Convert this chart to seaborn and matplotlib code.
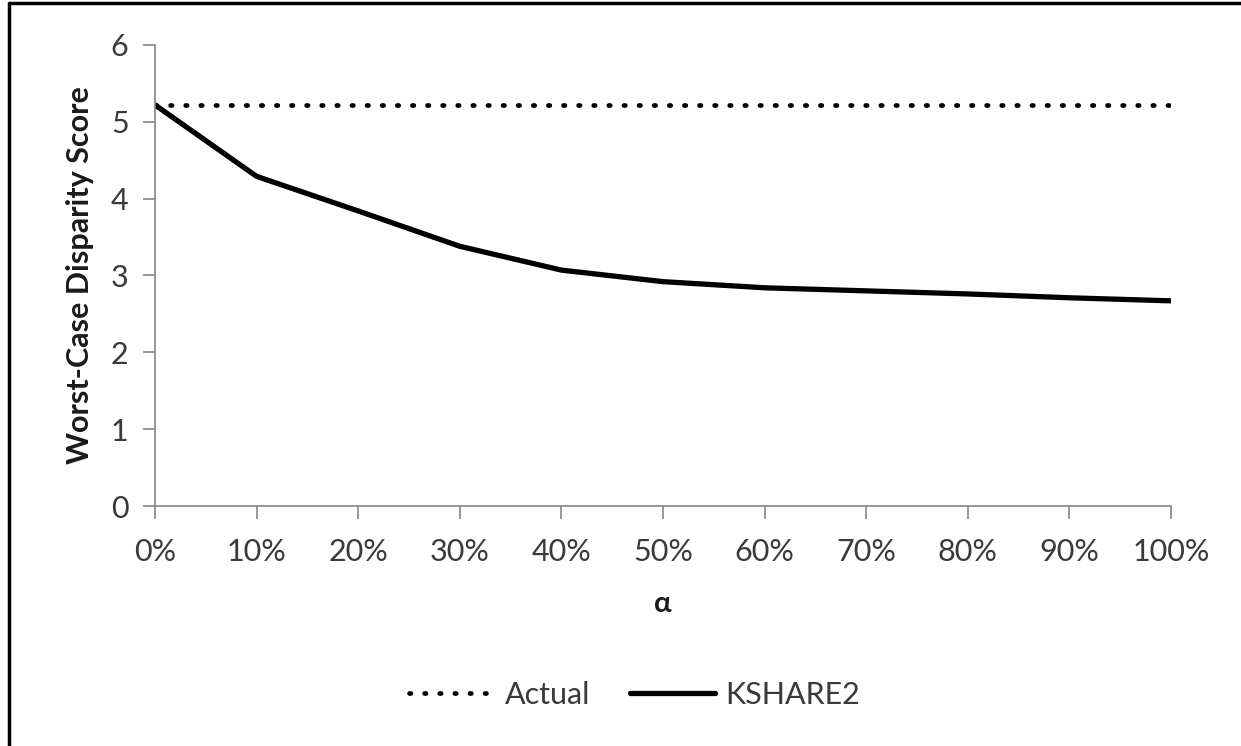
import matplotlib
matplotlib.use("Agg")
import matplotlib.pyplot as plt
import seaborn as sns
from matplotlib.lines import Line2D
from matplotlib.ticker import FuncFormatter

# data
alpha = [0.0, 0.1, 0.2, 0.3, 0.4, 0.5, 0.6, 0.7, 0.8, 0.9, 1.0]
actual = [5.22] * 11
kshare2 = [5.22, 4.29, 3.84, 3.38, 3.07, 2.92, 2.84, 2.80, 2.76, 2.71, 2.67]

sns.set_theme(style="white")
plt.rcParams['font.family'] = ['Lato', 'DejaVu Sans']

fig = plt.figure(figsize=(12.41, 7.46), dpi=100)
ax = fig.add_axes([0.1249, 0.3217, 0.8187, 0.618])

sns.lineplot(x=alpha, y=actual, ax=ax, color='black', linewidth=3.4,
             linestyle=(0, (0.3, 2.9)), dash_capstyle='round', label='Actual')
sns.lineplot(x=alpha, y=kshare2, ax=ax, color='black', linewidth=3.8,
             label='KSHARE2')

ax.set_xlim(0, 1)
ax.set_ylim(0, 6)
ax.set_xticks(alpha)
ax.set_yticks(range(7))
ax.xaxis.set_major_formatter(FuncFormatter(lambda v, p: f'{v * 100:.0f}%'))

grey = '#868686'
for s in ['top', 'right']:
    ax.spines[s].set_visible(False)
for s in ['left', 'bottom']:
    ax.spines[s].set_color(grey)
    ax.spines[s].set_linewidth(1.2)
ax.tick_params(axis='both', which='major', length=9, width=1.2, color=grey,
               labelsize=22, labelcolor='#3a3a3a', direction='out',
               bottom=True, left=True)
ax.tick_params(axis='x', pad=14)
ax.tick_params(axis='y', pad=10)

ax.set_xlabel('α', fontsize=21, fontweight='bold', labelpad=18, color='#1a1a1a')
ax.set_ylabel('Worst-Case Disparity Score', fontsize=22, fontweight='bold',
              labelpad=12, color='#1a1a1a')

leg = ax.legend(loc='center', bbox_to_anchor=(0.472, -0.41), ncol=2, frameon=False,
                fontsize=22, handlelength=2.8, handletextpad=0.33, columnspacing=1.3,
                labelcolor='#3a3a3a')

# outer frame visible on the left and top edges
fig.add_artist(Line2D([0.0075, 0.0075], [0, 0.996], transform=fig.transFigure,
                      color='black', linewidth=2.5))
fig.add_artist(Line2D([0.0075, 1.0], [0.996, 0.996], transform=fig.transFigure,
                      color='black', linewidth=2.5))

fig.savefig('out.png', dpi=100)
